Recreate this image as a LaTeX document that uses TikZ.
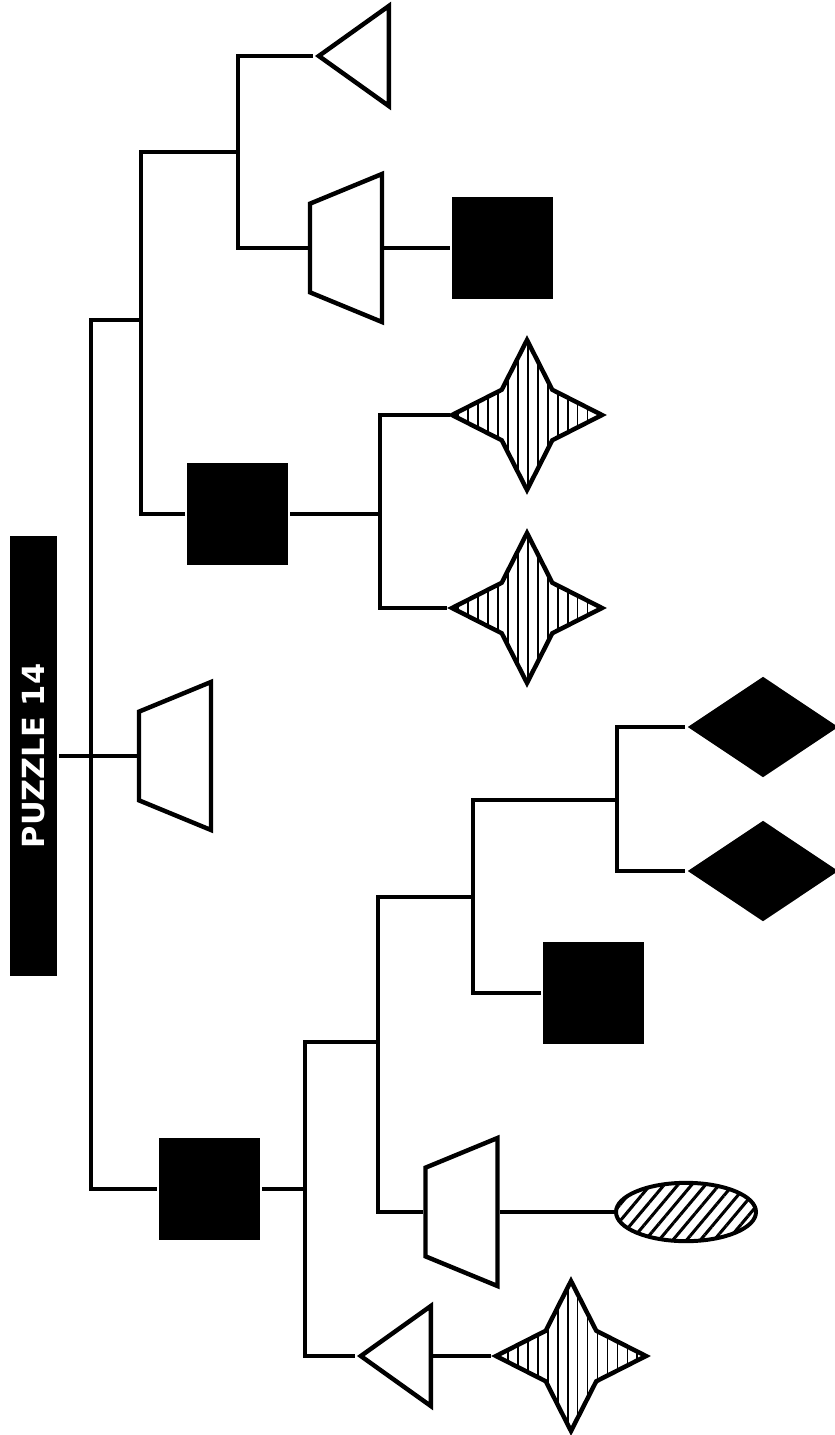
\documentclass[tikz,border=0pt]{standalone}
\usepackage{fontspec}
\usepackage{xcolor}
\usetikzlibrary{positioning, shapes, shapes.geometric, patterns.meta}
\newfontfamily\puzzlefont{DejaVu Sans}

\begin{document}
\begin{tikzpicture}[-, x=0.03cm, y=-0.03cm, line width=3.4pt,
		sq/.style={rectangle, fill=black, minimum size=3.04cm, inner sep=0pt},
		trap/.style={trapezium, draw, line width=3.8pt, rotate=90, trapezium left angle=67.6, trapezium right angle=67.6, inner xsep=1.33cm, inner ysep=1.08cm},
		tri/.style={isosceles triangle, draw, line width=3.8pt, rotate=180, isosceles triangle stretches=true, minimum width=3.0cm, minimum height=2.1cm, inner sep=1pt, anchor=apex},
		spark/.style={star, star points=4, star point ratio=2.1, draw, line width=3.8pt, minimum size=4.5cm, inner sep=1pt, pattern={Lines[angle=90, distance=8.5pt, line width=1.5pt]}},
		diam/.style={diamond, fill=black, minimum width=4.56cm, minimum height=3.06cm, inner sep=1pt},
		oval/.style={ellipse, draw, line width=3.4pt, minimum width=4.2cm, minimum height=1.75cm, inner sep=1pt, pattern={Lines[angle=50, distance=9pt, line width=2.6pt]}}]
			\useasboundingbox (0,0) rectangle (834,1435);
			
			\node[fill=black, text=white, rotate=90, minimum width=13.2cm, minimum height=1.41cm, inner sep=0pt, font=\puzzlefont\bfseries\fontsize{26}{30}\selectfont] (t) at (33.5,756) {PUZZLE 14};
			
			\node[trap] (q0) at (175,756) {};
			\node[sq] (q1) at (237.5,514) {};
			\node[sq] (q2) at (209.5,1189) {};
			\node[tri] (q3) at (313,56) {};
			\node[trap] (q4) at (346,248) {};
			\node[sq] (q5) at (502.5,248) {};
			\node[spark] (q6) at (527,415) {};
			\node[spark] (q7) at (527,608) {};
			\node[tri] (q8) at (355,1356) {};
			\node[spark] (q9) at (571,1356) {};
			\node[trap] (q10) at (461.5,1212) {};
			\node[oval] (q11) at (686,1212) {};
			\node[sq] (q12) at (593.5,993) {};
			\node[diam] (q13) at (763,727) {};
			\node[diam] (q14) at (763,871) {};
			
			\coordinate (j0) at (91,756);
			\coordinate (j1) at (141,320);
			\coordinate (j2) at (238,152);
			\coordinate (j3) at (380,514);
			\coordinate (j4) at (305,1189);
			\coordinate (j5) at (378,1042);
			\coordinate (j6) at (473,897);
			\coordinate (j7) at (617,800);
			
			\draw (t) -- (q0);
			\draw (j1) -| (j0) |- (q2);
			\draw (j2) -| (j1) |- (q1);
			\draw (q3) -| (j2) |- (q4);
			\draw (q4) -- (q5);
			\draw (q1) -- (j3);
			\draw (q6) -| (j3) |- (q7);
			\draw (q2) -- (j4);
			\draw (j5) -| (j4) |- (q8);
			\draw (q8) -- (q9);
			\draw (j6) -| (j5) |- (q10);
			\draw (q10) -- (q11);
			\draw (j7) -| (j6) |- (q12);
		\draw (q13) -| (j7) |- (q14);
		\end{tikzpicture}
\end{document}
